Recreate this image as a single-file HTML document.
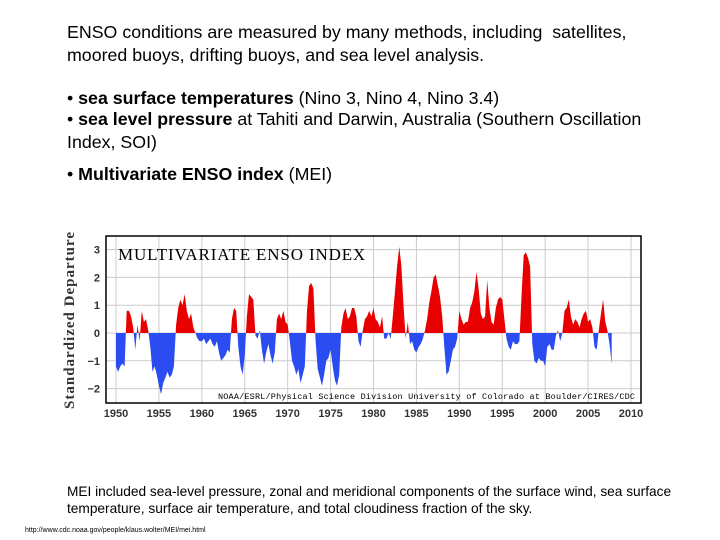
<!DOCTYPE html>
<html><head><meta charset="utf-8"><style>
body{margin:0;width:720px;height:540px;background:#fff;position:relative;overflow:hidden;font-family:"Liberation Sans",Arial,sans-serif;color:#000}
.t{position:absolute;left:67px;font-size:17.8px;line-height:23px;margin:0;white-space:nowrap}
</style></head><body>
<p class="t" style="top:21px">ENSO conditions are measured by many methods, including&nbsp; satellites,<br>moored buoys, drifting buoys, and sea level analysis.</p>
<p class="t" style="top:87px">• <b>sea surface temperatures</b> (Nino 3, Nino 4, Nino 3.4)</p>
<p class="t" style="top:108px">• <b>sea level pressure</b> at Tahiti and Darwin, Australia (Southern Oscillation<br>Index, SOI)</p>
<p class="t" style="top:163px">• <b>Multivariate ENSO index</b> (MEI)</p>
<svg id="chart" width="720" height="540" style="position:absolute;left:0;top:0"></svg>
<p style="position:absolute;left:67px;top:483px;margin:0;font-size:13.7px;line-height:17px;white-space:nowrap">MEI included sea-level pressure, zonal and meridional components of the surface wind, sea surface<br>temperature, surface air temperature, and total cloudiness fraction of the sky.</p>
<p style="position:absolute;left:25px;top:527px;margin:0;font-size:7px">http://www.cdc.noaa.gov/people/klaus.wolter/MEI/mei.html</p>
<script>
const startYear=1950, step=0.25;
const meiValues=[-1.2,-1.4,-1.2,-1.1,-1.2,0.8,0.8,0.6,0.2,-0.6,0.3,-0.3,0.8,0.4,0.5,0.1,-0.5,-1.4,-1.2,-1.5,-1.9,-2.2,-1.8,-1.6,-1.4,-1.6,-1.5,-1.2,0.3,0.9,1.2,1.0,1.4,0.8,0.5,0.7,0.2,0.0,-0.2,-0.3,-0.3,-0.2,-0.4,-0.3,-0.2,-0.4,-0.5,-0.3,-0.7,-1.0,-0.9,-0.8,-0.6,-0.7,0.5,0.9,0.8,-0.5,-1.2,-1.5,-0.8,0.6,1.4,1.3,1.2,-0.1,-0.2,0.1,-0.6,-1.1,-0.7,-0.4,-0.8,-1.1,-0.7,0.5,0.7,0.5,0.8,0.4,0.3,-0.3,-1.0,-1.2,-1.5,-1.3,-1.8,-1.5,-1.2,0.8,1.7,1.8,1.6,-0.3,-1.3,-1.6,-1.9,-1.5,-1.0,-0.9,-0.6,-1.2,-1.7,-1.9,-1.5,0.2,0.7,0.9,0.5,0.6,0.9,0.9,0.6,-0.3,-0.5,0.1,0.5,0.6,0.8,0.6,0.9,0.5,0.4,0.2,0.6,-0.2,-0.2,0.0,-0.2,0.6,1.5,2.4,3.1,2.4,1.0,-0.2,0.4,-0.4,-0.3,-0.6,-0.7,-0.5,-0.4,-0.2,0.1,0.5,1.1,1.5,2.0,2.1,1.7,1.3,0.6,-0.5,-1.5,-1.4,-1.0,-0.6,-0.5,-0.2,0.8,0.5,0.3,0.4,0.4,0.9,1.1,1.5,2.2,1.6,0.7,0.5,0.6,1.9,0.9,0.4,0.3,0.9,1.2,1.3,1.2,0.5,-0.2,-0.5,-0.6,-0.3,-0.4,-0.4,-0.3,1.4,2.8,2.9,2.7,2.4,-0.4,-1.0,-1.1,-0.9,-1.0,-1.0,-1.2,-0.5,-0.4,-0.6,-0.6,-0.1,0.1,-0.3,0.0,0.8,0.9,1.2,0.6,0.3,0.5,0.4,0.2,0.5,0.7,0.8,0.4,0.5,0.2,-0.5,-0.6,0.1,0.7,1.2,0.4,0.1,-0.4,-1.1];
const xTicks=[1950,1955,1960,1965,1970,1975,1980,1985,1990,1995,2000,2005,2010];
const yTicks=[-2,-1,0,1,2,3];
const NS="http://www.w3.org/2000/svg";
const svg=document.getElementById('chart');
const X=y=>116+(y-1950)*(631-116)/60;
const Y=v=>333-v*27.8;
function mk(tag,at,parent){const e=document.createElementNS(NS,tag);for(const k in at)e.setAttribute(k,at[k]);(parent||svg).appendChild(e);return e;}
const L=106,R=641,T=236,B=403;
let e=mk('rect',{x:L,y:T,width:R-L,height:B-T,fill:'#fff',stroke:'none'});

xTicks.forEach(t=>{let g=mk('line',{x1:X(t),x2:X(t),y1:T,y2:B,stroke:'#ccc','stroke-width':1});

let tx=mk('text',{x:X(t),y:417,'font-size':11,'font-weight':'bold','fill':'#333','text-anchor':'middle','font-family':'Liberation Sans,sans-serif'});tx.textContent=t;
});
yTicks.forEach(t=>{let g=mk('line',{x1:L,x2:R,y1:Y(t),y2:Y(t),stroke:'#ccc','stroke-width':1});

let tx=mk('text',{x:100,y:Y(t)+4,'font-size':11,'font-weight':'bold','fill':'#333','text-anchor':'end','font-family':'Liberation Sans,sans-serif'});tx.textContent=t===0?'0':(t<0?'\u2212'+(-t):t);
});
const defs=mk('defs',{});
const c1=mk('clipPath',{id:'above'},defs);mk('rect',{x:L,y:T,width:R-L,height:Y(0)-T},c1);
const c2=mk('clipPath',{id:'below'},defs);mk('rect',{x:L,y:Y(0),width:R-L,height:B-Y(0)},c2);
let d='M'+X(startYear)+','+Y(0);
meiValues.forEach((v,i)=>{d+=' L'+X(startYear+i*step).toFixed(1)+','+Y(v).toFixed(1);});
d+=' L'+X(startYear+(meiValues.length-1)*step)+','+Y(0)+' Z';
let pa=mk('path',{d:d,fill:'#e80000','clip-path':'url(#above)'});

let pb=mk('path',{d:d,fill:'#2a4cf0','clip-path':'url(#below)'});

let fr=mk('rect',{x:L,y:T,width:R-L,height:B-T,fill:'none',stroke:'#000','stroke-width':1.5});

let ti=mk('text',{x:118,y:260,'font-size':17,'font-family':'Liberation Serif,serif','letter-spacing':'0.8','textLength':248});ti.textContent='MULTIVARIATE ENSO INDEX';

let yl=mk('text',{x:0,y:0,'font-size':15,'font-weight':'bold','fill':'#333','font-family':'Liberation Serif,serif','text-anchor':'middle',transform:'translate(74,320) rotate(-90)','letter-spacing':'1'});yl.textContent='Standardized Departure';

let cr=mk('text',{x:218,y:399,'font-size':8.5,'font-family':'Liberation Mono,monospace','textLength':417});cr.textContent='NOAA/ESRL/Physical Science Division    University of Colorado at Boulder/CIRES/CDC';

</script>
</body></html>
